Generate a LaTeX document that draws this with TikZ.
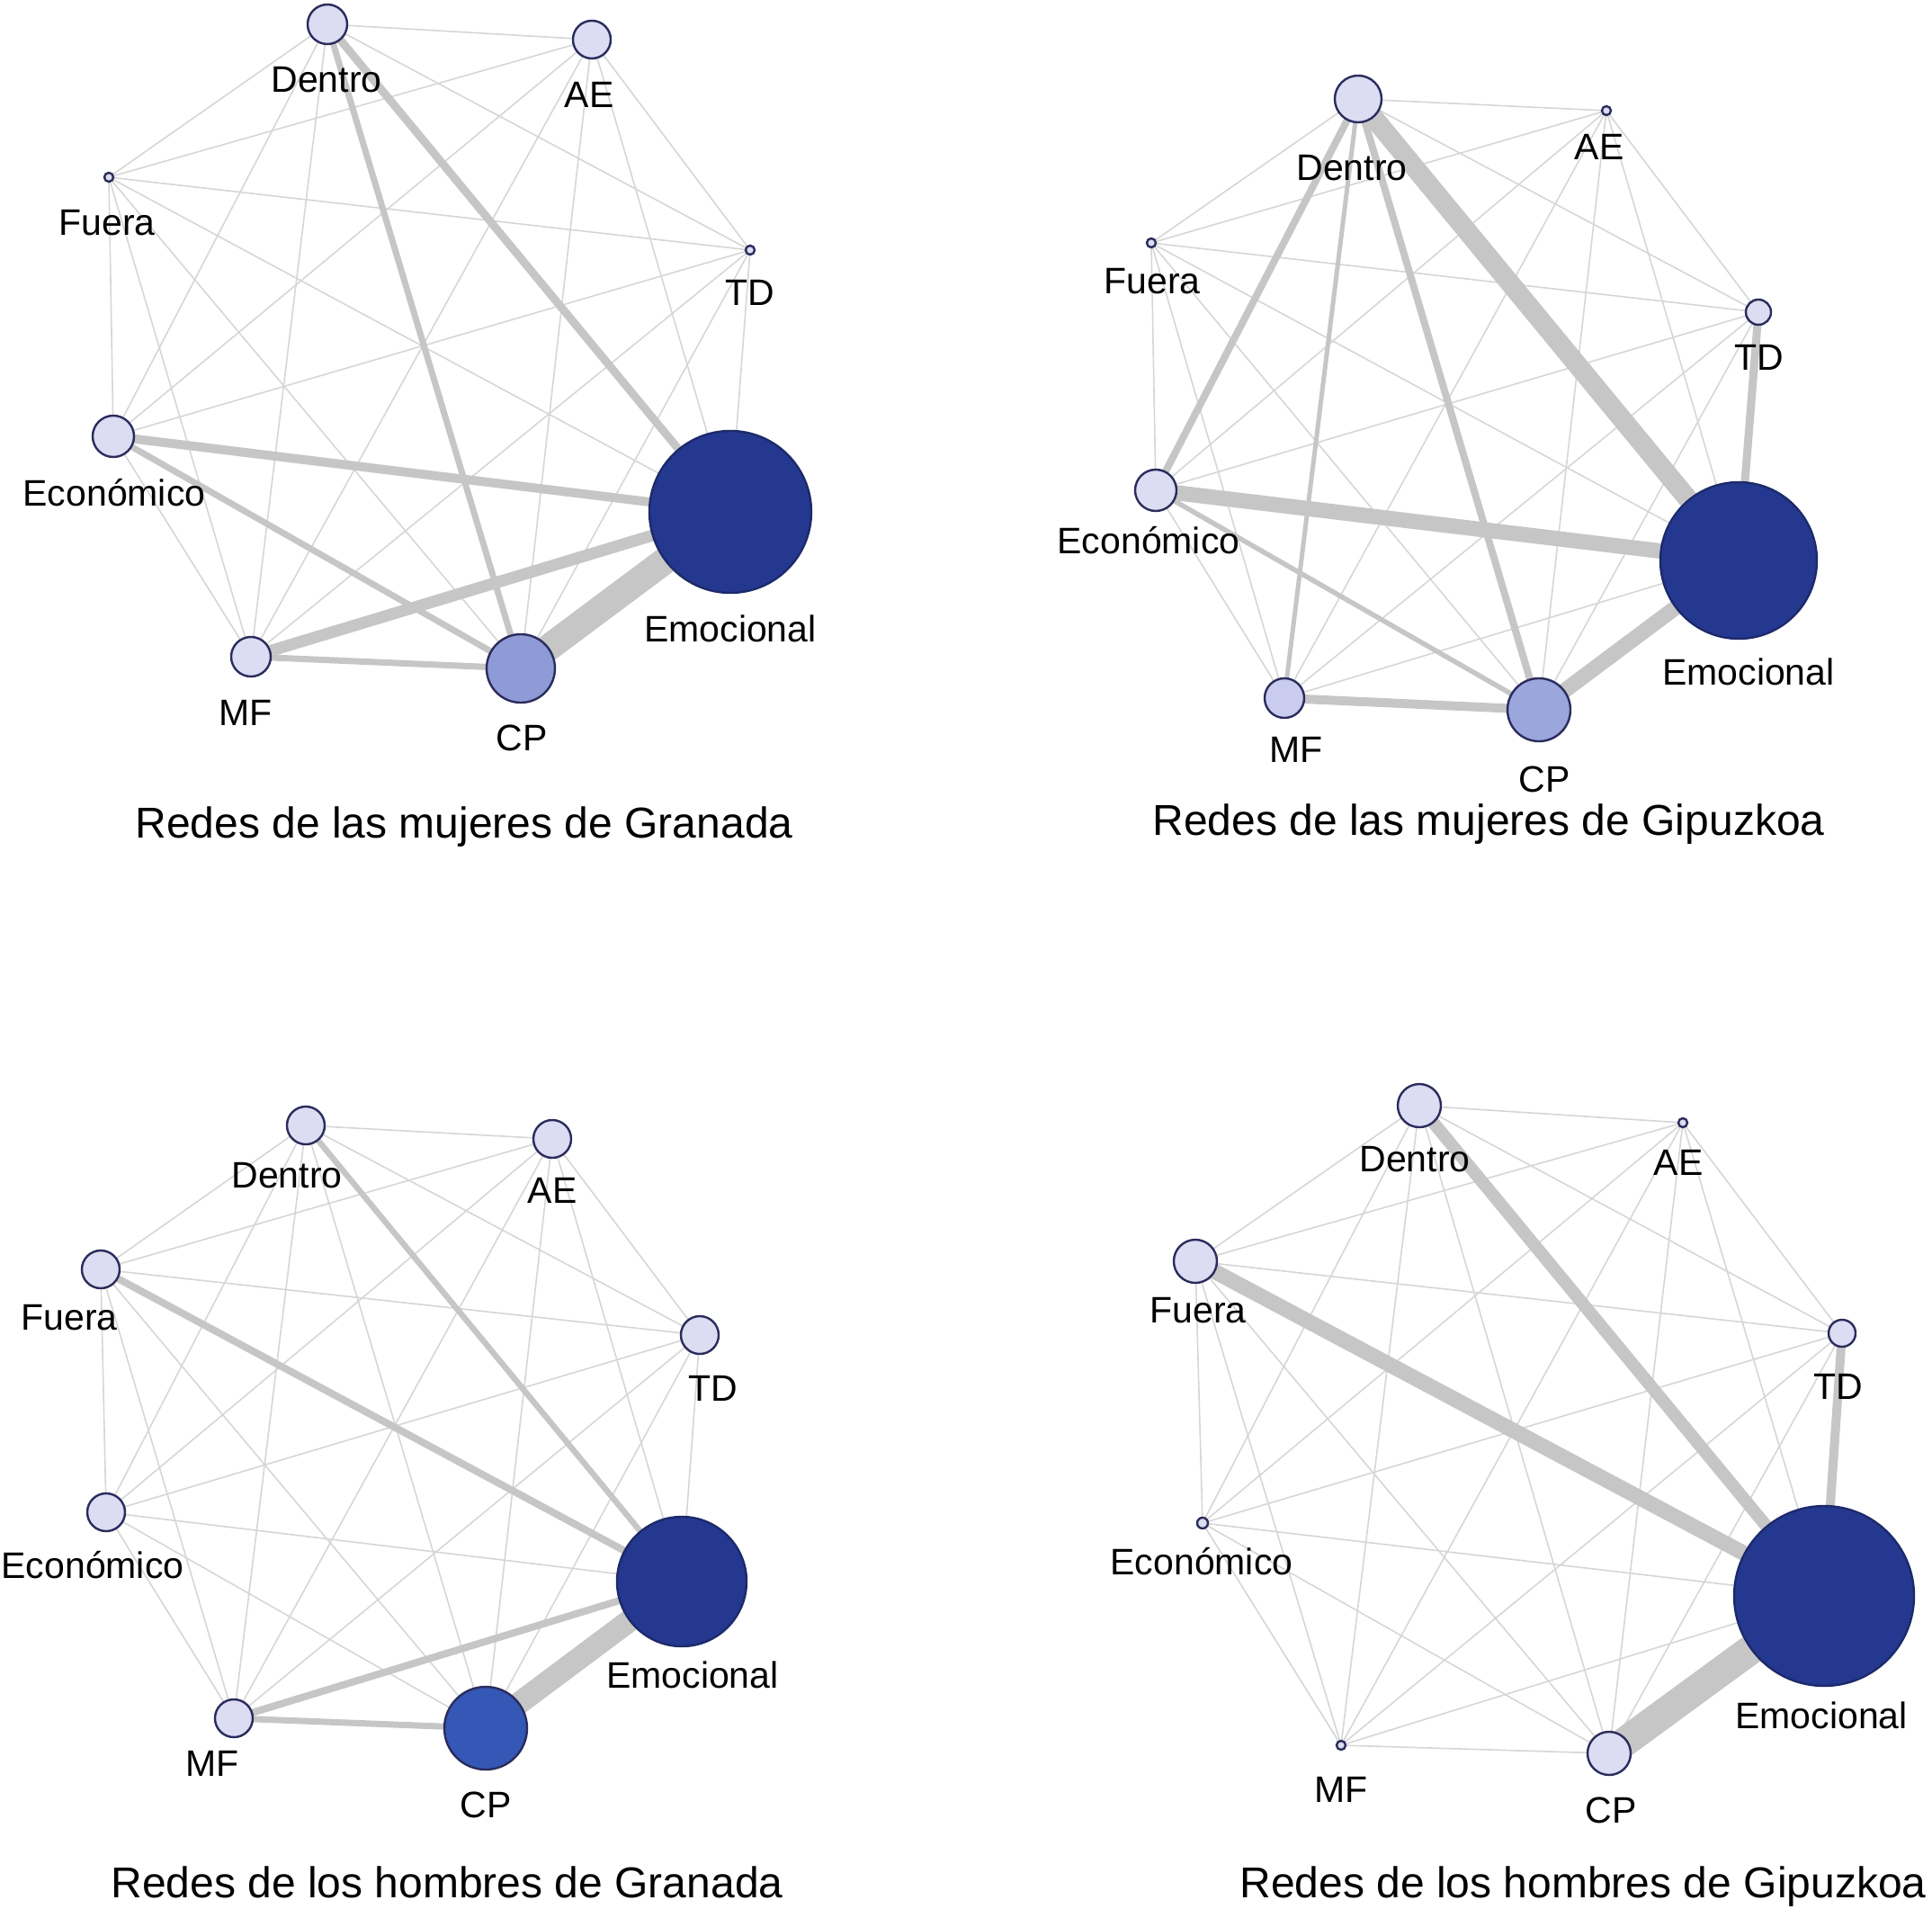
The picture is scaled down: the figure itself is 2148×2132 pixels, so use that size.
\documentclass[tikz,border=0pt]{standalone}
\usepackage{fontspec}
\setmainfont{Liberation Sans}
\usetikzlibrary{backgrounds}
\definecolor{nodefill}{HTML}{DCDCF2}
\definecolor{nodeline}{HTML}{2A2C5C}
\definecolor{emo}{HTML}{253890}
\definecolor{emoline}{HTML}{1C2A6A}
\definecolor{cpa}{HTML}{8F9BD6}
\definecolor{cpb}{HTML}{9AA6DC}
\definecolor{cpc}{HTML}{3557B5}
\definecolor{mfb}{HTML}{C9CCEE}
\definecolor{thinedge}{HTML}{D6D6D6}
\definecolor{thickedge}{HTML}{C6C6C6}
\tikzset{
  vnode/.style={circle, inner sep=0pt, outer sep=0pt, draw=nodeline, line width=2.4pt, fill=nodefill},
  emonode/.style={vnode, draw=emoline, fill=emo},
  lbl/.style={inner sep=0pt, text height=29pt, text depth=0pt, font=\fontsize{41}{49}\selectfont},
  ttl/.style={inner sep=0pt, text height=34pt, text depth=0pt, font=\fontsize{48}{58}\selectfont},
  thinlink/.style={draw=thinedge, line width=1.6pt},
  link/.style={draw=thickedge, line width=#1},
}
\begin{document}
\begin{tikzpicture}[x=1pt,y=-1pt]
\useasboundingbox (0,0) rectangle (2148,2132);
% node order: 1 Dentro, 2 AE, 3 Fuera, 4 TD, 5 Economico, 6 Emocional, 7 MF, 8 CP
% ---------------- Panel 1: mujeres de Granada
\foreach \n/\x/\y/\r in {1/364/27/22, 2/658/44/21, 3/121/197/5, 4/834/278/5, 5/126/485/23, 7/279/730/22}
  \node[vnode, minimum size=2*\r] (p1n\n) at (\x,\y) {};
\node[emonode, minimum size=180] (p1n6) at (812,569) {};
\node[vnode, fill=cpa, minimum size=76] (p1n8) at (579,743) {};
\foreach \n/\t/\x/\y in {1/Dentro/363/88, 2/AE/655/105, 3/Fuera/119/247, 4/TD/834/325, 5/Económico/127/548, 6/Emocional/812/699, 7/MF/273/792, 8/CP/580/820}
  \node[lbl] (p1t\n) at (\x,\y) {\t};
\node[ttl] (p1title) at (516,914) {Redes de las mujeres de Granada};
% ---------------- Panel 2: mujeres de Gipuzkoa
\foreach \n/\x/\y/\r in {1/1510/110/26, 2/1786/123/5, 3/1280/270/5, 4/1955/347/14, 5/1285/545/23}
  \node[vnode, minimum size=2*\r] (p2n\n) at (\x,\y) {};
\node[emonode, minimum size=174] (p2n6) at (1933,623) {};
\node[vnode, fill=mfb, minimum size=44] (p2n7) at (1428,776) {};
\node[vnode, fill=cpb, minimum size=70] (p2n8) at (1711,789) {};
\foreach \n/\t/\x/\y in {1/Dentro/1503/186, 2/AE/1778/163, 3/Fuera/1281/312, 4/TD/1956/397, 5/Económico/1277/601, 6/Emocional/1944/747, 7/MF/1441/833, 8/CP/1717/866}
  \node[lbl] (p2t\n) at (\x,\y) {\t};
\node[ttl] (p2title) at (1655,911) {Redes de las mujeres de Gipuzkoa};
% ---------------- Panel 3: hombres de Granada
\foreach \n/\x/\y/\r in {1/340/1251/21, 2/614/1266/21, 3/112/1411/21, 4/778/1484/21, 5/118/1681/21, 7/260/1910/21}
  \node[vnode, minimum size=2*\r] (p3n\n) at (\x,\y) {};
\node[emonode, minimum size=144] (p3n6) at (758,1758) {};
\node[vnode, fill=cpc, minimum size=92] (p3n8) at (540,1921) {};
\foreach \n/\t/\x/\y in {1/Dentro/319/1306, 2/AE/614/1323, 3/Fuera/77/1464, 4/TD/793/1543, 5/Económico/103/1740, 6/Emocional/770/1862, 7/MF/236/1960, 8/CP/540/2006}
  \node[lbl] (p3t\n) at (\x,\y) {\t};
\node[ttl] (p3title) at (497,2092) {Redes de los hombres de Granada};
% ---------------- Panel 4: hombres de Gipuzkoa
\foreach \n/\x/\y/\r in {1/1578/1229/24, 2/1871/1248/5, 3/1329/1402/24, 4/2048/1482/15, 5/1337/1693/6, 7/1491/1940/5, 8/1789/1949/24}
  \node[vnode, minimum size=2*\r] (p4n\n) at (\x,\y) {};
\node[emonode, minimum size=200] (p4n6) at (2028,1774) {};
\foreach \n/\t/\x/\y in {1/Dentro/1573/1288, 2/AE/1866/1292, 3/Fuera/1332/1456, 4/TD/2044/1541, 5/Económico/1336/1736, 6/Emocional/2025/1907, 7/MF/1491/1989, 8/CP/1791/2012}
  \node[lbl] (p4t\n) at (\x,\y) {\t};
\node[ttl] (p4title) at (1760,2092) {Redes de los hombres de Gipuzkoa};
% ---------------- Edges
\begin{pgfonlayer}{background}
\foreach \p in {1,2,3,4}
  \foreach \i in {1,...,8}
    \foreach \j in {1,...,8}
      {\ifnum\i<\j \draw[thinlink] (p\p n\i.center) -- (p\p n\j.center);\fi}
% panel 1
\draw[link=9pt]  (p1n1.center) -- (p1n6.center);
\draw[link=7pt]  (p1n1.center) -- (p1n8.center);
\draw[link=10pt] (p1n5.center) -- (p1n6.center);
\draw[link=7pt]  (p1n5.center) -- (p1n8.center);
\draw[link=13pt] (p1n7.center) -- (p1n6.center);
\draw[link=7pt]  (p1n7.center) -- (p1n8.center);
\draw[link=30pt] (p1n8.center) -- (p1n6.center);
% panel 2
\draw[link=22pt] (p2n1.center) -- (p2n6.center);
\draw[link=8pt]  (p2n1.center) -- (p2n5.center);
\draw[link=5pt]  (p2n1.center) -- (p2n7.center);
\draw[link=8pt]  (p2n1.center) -- (p2n8.center);
\draw[link=9pt]  (p2n4.center) -- (p2n6.center);
\draw[link=17pt] (p2n5.center) -- (p2n6.center);
\draw[link=5.5pt](p2n5.center) -- (p2n8.center);
\draw[link=10pt] (p2n7.center) -- (p2n8.center);
\draw[link=17pt] (p2n8.center) -- (p2n6.center);
% panel 3
\draw[link=6.5pt](p3n1.center) -- (p3n6.center);
\draw[link=8pt]  (p3n3.center) -- (p3n6.center);
\draw[link=8pt]  (p3n7.center) -- (p3n6.center);
\draw[link=7pt]  (p3n7.center) -- (p3n8.center);
\draw[link=25pt] (p3n8.center) -- (p3n6.center);
% panel 4
\draw[link=14pt] (p4n1.center) -- (p4n6.center);
\draw[link=17pt] (p4n3.center) -- (p4n6.center);
\draw[link=10pt] (p4n4.center) -- (p4n6.center);
\draw[link=33pt] (p4n8.center) -- (p4n6.center);
\end{pgfonlayer}
\end{tikzpicture}
\end{document}
